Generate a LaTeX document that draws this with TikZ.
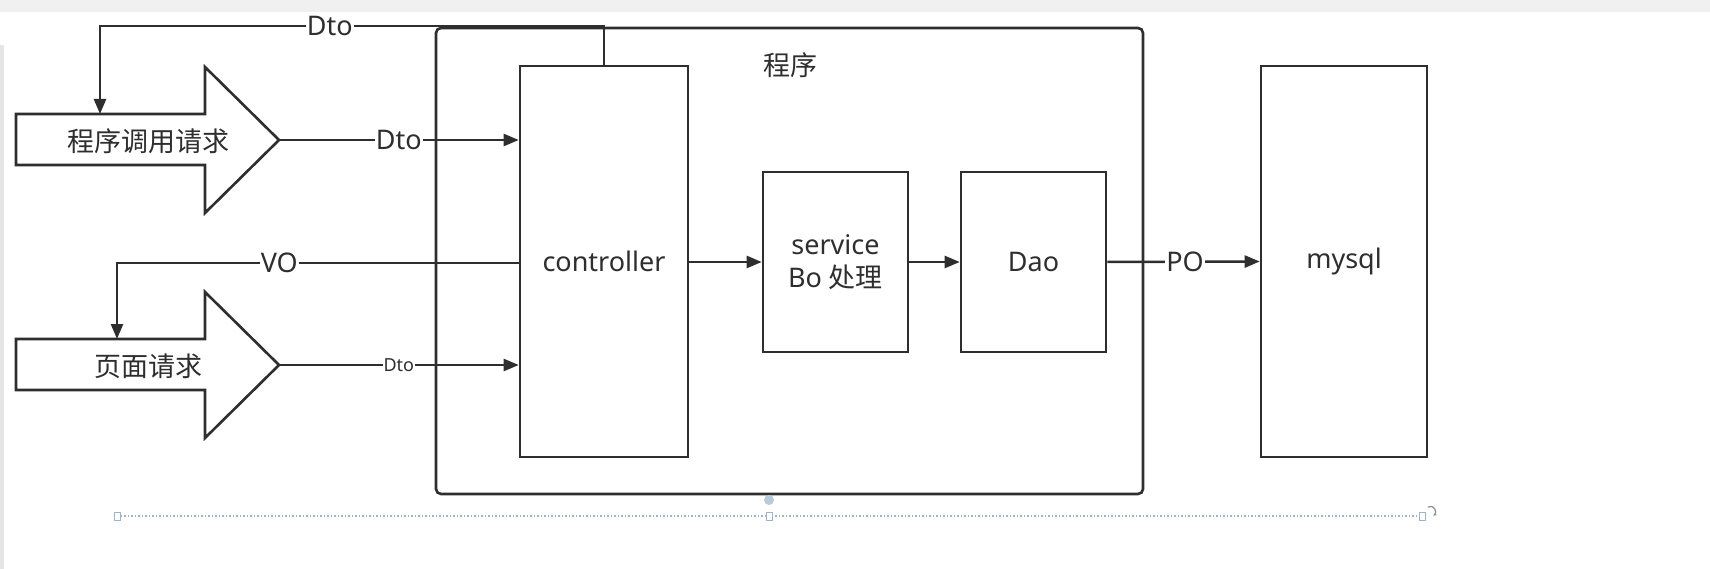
\documentclass[tikz,border=0pt]{standalone}
\usepackage{fontspec}
\setmainfont{Noto Sans}
\newfontfamily\cjk{Noto Sans CJK SC}
\usetikzlibrary{arrows.meta}
\definecolor{ln}{HTML}{2E2E2E}
\definecolor{sel}{HTML}{9DB4CC}
\begin{document}
\begin{tikzpicture}[x=1pt,y=-1pt,
  box/.style={draw=ln, line width=2.6pt, rectangle, inner sep=0pt, text=ln, align=center,
              font=\fontsize{27}{33}\selectfont},
  conn/.style={draw=ln, line width=2.5pt, -{Triangle[length=15pt,width=12pt]}},
  lbl/.style={fill=white, inner sep=1pt, text=ln, font=\fontsize{27}{30}\selectfont},
  slbl/.style={fill=white, inner sep=1pt, text=ln, font=\fontsize{18}{20}\selectfont},
  bigarrow/.style={draw=ln, line width=2.6pt, fill=white, line join=miter},
  atext/.style={text=ln, font=\cjk\fontsize{27}{30}\selectfont, inner sep=0pt}]
\useasboundingbox (0,0) rectangle (1710,569);
\fill[white] (0,0) rectangle (1710,569);
% top strip of the screen
\fill[black!6] (0,0) rectangle (1710,12);
\fill[black!10] (0,45) rectangle (4,569);

% outer programme box
\node[box, rounded corners=5pt, minimum width=707pt, minimum height=466pt] (prog) at (789.5,261) {};
\node[atext, font=\cjk\fontsize{27}{30}\selectfont] (progt) at (790,65) {程序};

% inner boxes
\node[box, minimum width=168pt, minimum height=391pt] (ctrl) at (604,261.5) {controller};
\node[box, minimum width=145pt, minimum height=180pt] (svc) at (835.5,262) {service\\Bo {\cjk 处理}};
\node[box, minimum width=145pt, minimum height=180pt] (dao) at (1033.5,262) {Dao};
\node[box, minimum width=166pt, minimum height=391pt] (db) at (1344,261.5) {mysql};

% big arrows
\draw[bigarrow] (16,114) -- (205,114) -- (205,67) -- (279,140) -- (205,213) -- (205,165) -- (16,165) -- cycle;
\node[atext] (req1) at (148,141) {程序调用请求};
\coordinate (tip1) at (279,140);
\coordinate (top1) at (100,114);

\draw[bigarrow] (16,339) -- (205,339) -- (205,292) -- (279,365) -- (205,438) -- (205,390) -- (16,390) -- cycle;
\node[atext] (req2) at (148,366) {页面请求};
\coordinate (tip2) at (279,365);
\coordinate (top2) at (117,339);

% connectors
\draw[conn] (ctrl.north) -- (ctrl.north |- 0,26) -- node[lbl, pos=0.544] {Dto} (100,26) -- (top1);
\draw[conn] (tip1) -- node[lbl, pos=0.5] {Dto} (ctrl.west |- tip1);
\draw[conn] (ctrl.west |- 0,263) -- node[lbl, pos=0.596] {VO} (117,263) -- (top2);
\draw[conn] (tip2) -- node[slbl, pos=0.5] {Dto} (ctrl.west |- tip2);
\draw[conn] (ctrl.east |- 0,262) -- (svc.west);
\draw[conn] (svc.east) -- (dao.west);
\draw[conn] (dao.east) -- node[lbl, pos=0.51] {PO} (db.west);

% selection frame of the editor
\draw[sel, line width=1.3pt, dash pattern=on 1.5pt off 2pt] (117,516) -- (1422,516);
\foreach \xx in {117,769,1422}
  \draw[sel, fill=white, line width=1pt] (\xx-3,512) rectangle (\xx+3,520);
\fill[sel!70] (769,500) circle (5pt);
\draw[black!45, line width=1.2pt, -{Stealth[length=4pt]}] (1428,507) arc[start angle=120, end angle=-60, radius=5pt];
\end{tikzpicture}
\end{document}
